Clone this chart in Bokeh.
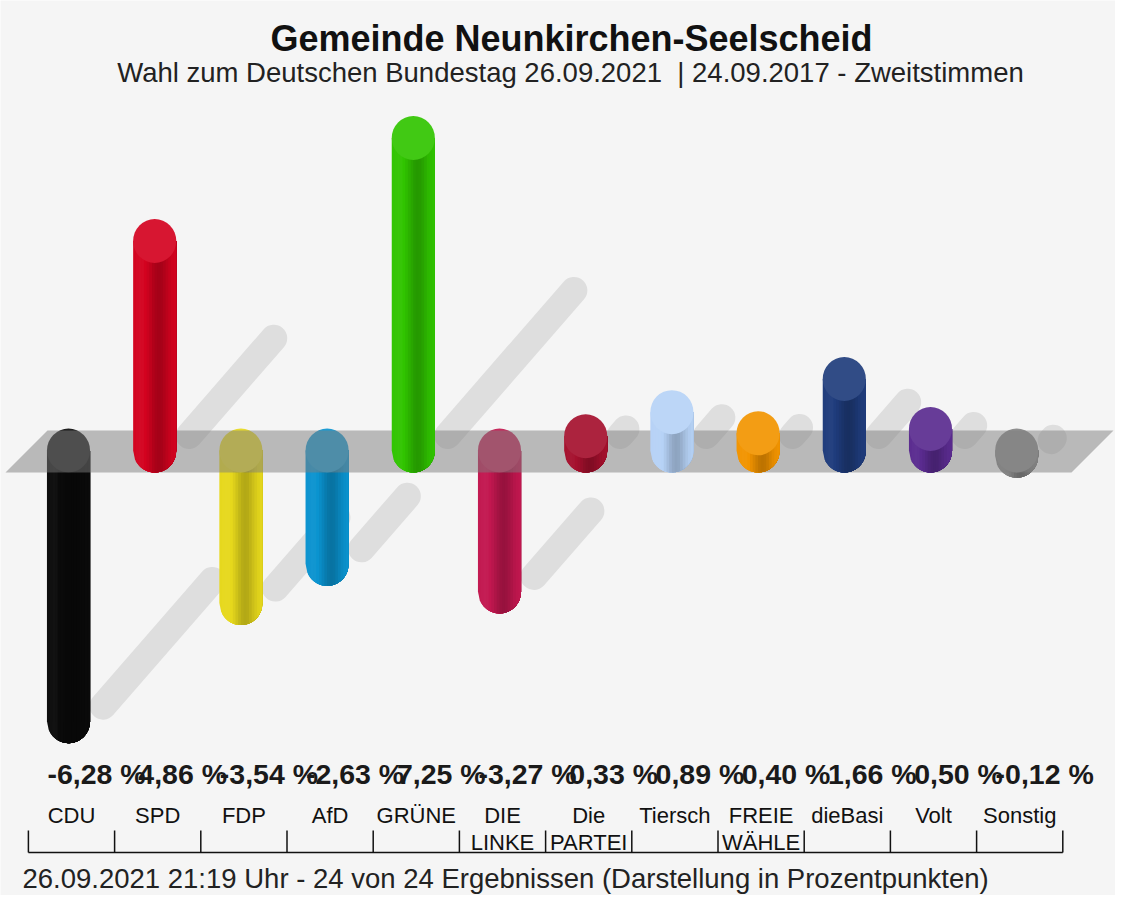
import math
from bokeh.plotting import figure
from bokeh.models import Range1d
from bokeh.embed import file_html
from bokeh.resources import INLINE
from bokeh.core.properties import value

# ---------------- data ----------------
label_line1 = ["CDU", "SPD", "FDP", "AfD", "GRÜNE", "DIE", "Die", "Tiersch", "FREIE", "dieBasi", "Volt", "Sonstig"]
label_line2 = ["", "", "", "", "", "LINKE", "PARTEI", "", "WÄHLE", "", "", ""]
values = [-6.28, 4.86, -3.54, -2.63, 7.25, -3.27, 0.33, 0.89, 0.40, 1.66, 0.50, -0.12]
colors = ["#0a0a0a", "#d3021f", "#e6d81c", "#0a93cf", "#30c400", "#c2174f",
          "#a5102d", "#b6d2f6", "#f29400", "#1f3c7c", "#5a2b8f", "#858585"]
title_text = "Gemeinde Neunkirchen-Seelscheid"
subtitle_text = "Wahl zum Deutschen Bundestag 26.09.2021\u00a0 | 24.09.2017 - Zweitstimmen"
footer_text = "26.09.2021 21:19 Uhr - 24 von 24 Ergebnissen (Darstellung in Prozentpunkten)"

# ---------------- geometry ----------------
W, H = 1115, 895
SLOT = 86.2      # px per category
UNIT = 43.1      # px per percentage point
X0 = 68.0        # px of first category centre
Y0 = 450.0       # px of zero level
BAR_W = 0.5
CAP = 44.0 / UNIT
FONT = value("Liberation Sans")


def fx(px):
    return (px - X0) / SLOT


def fy(py):
    return (Y0 - py) / UNIT


def hex2rgb(h):
    return tuple(int(h[i:i + 2], 16) for i in (1, 3, 5))


def rgb2hex(c):
    return "#%02x%02x%02x" % tuple(max(0, min(255, int(round(v)))) for v in c)


def shade(h, m):
    r, g, b = hex2rgb(h)
    if m <= 1:
        return rgb2hex((r * m, g * m, b * m))
    t = m - 1
    return rgb2hex((r + (255 - r) * t, g + (255 - g) * t, b + (255 - b) * t))


p = figure(width=W, height=H,
           x_range=Range1d(-X0 / SLOT, (W - X0) / SLOT),
           y_range=Range1d(-(H - Y0) / UNIT, Y0 / UNIT),
           output_backend="svg", toolbar_location=None, min_border=0,
           x_axis_location=None, y_axis_location=None)
p.grid.visible = False
p.outline_line_color = None
p.background_fill_color = "#f5f5f5"
p.border_fill_color = "#f5f5f5"

n = len(values)
xs = list(range(n))

# ---------------- shadows ----------------
sx0, sy0, sx1, sy1 = [], [], [], []
for i, v in zip(xs, values):
    a = abs(v)
    start_y = (v if v < 0 else 0) + 15 / UNIT
    dy = 20 * a / UNIT
    dx = (20 * a / 1.15) / SLOT
    sx0.append(i + 0.4)
    sy0.append(start_y)
    sx1.append(i + 0.4 + dx)
    sy1.append(start_y + dy)
p.segment(sx0, sy0, sx1, sy1, line_width=27, line_cap="round", line_color="#dedede")

# ---------------- bars (shaded cylinders) ----------------
NSTRIP = 16
HW = BAR_W / 2
CH = CAP / 2


def draw_bars(idx):
    pxs, pys, pcs = [], [], []
    top_x, top_y, top_c = [], [], []
    for i in idx:
        v = values[i]
        c = colors[i]
        lo, hi = min(0, v), max(0, v)
        w = BAR_W / NSTRIP
        for k in range(NSTRIP):
            t = -1 + (2 * k + 1) / NSTRIP
            m = 1 - 0.22 * math.exp(-((t - 0.2) / 0.45) ** 2) + 0.04 * math.exp(-((t + 0.6) / 0.3) ** 2)
            xl = i - HW + k * w
            px_ = [xl, i + HW]
            py_ = [hi, hi]
            steps = 24
            for s in range(steps + 1):
                xx = (i + HW) - (i + HW - xl) * s / steps
                u = (xx - i) / HW
                yy = lo - CH * math.sqrt(max(0.0, 1 - u * u))
                px_.append(xx)
                py_.append(yy)
            pxs.append(px_)
            pys.append(py_)
            pcs.append(shade(c, m))
        top_x.append(i)
        top_y.append(hi)
        top_c.append(shade(c, 1.08))
    p.patches(pxs, pys, fill_color=pcs, line_color=None)
    p.ellipse(top_x, top_y, width=BAR_W, height=CAP, fill_color=top_c, line_color=None)


neg = [i for i in xs if values[i] < 0]
pos = [i for i in xs if values[i] >= 0]
draw_bars(neg)

# ---------------- zero plane ----------------
plane_x = [fx(5), fx(47), fx(1113), fx(1071)]
plane_y = [fy(472), fy(430), fy(430), fy(472)]
p.patch(plane_x, plane_y, fill_color="#7e7e7e", fill_alpha=0.5, line_color=None)

draw_bars(pos)

# ---------------- texts ----------------
p.text(x=[fx(571)], y=[fy(38)], text=[title_text], text_font=FONT, text_font_size="36px",
       text_font_style="bold", text_align="center", text_baseline="middle", text_color="#111111")
p.text(x=[fx(570)], y=[fy(72)], text=[subtitle_text], text_font=FONT, text_font_size="27.5px",
       text_align="center", text_baseline="middle", text_color="#222222")

val_labels = [("%.2f" % v).replace(".", ",") + " %" for v in values]
p.text(x=[i + 28 / SLOT for i in xs], y=[fy(773)] * n, text=val_labels, text_font=FONT,
       text_font_size="28.5px", text_font_style="bold", text_align="center",
       text_baseline="middle", text_color="#1a1a1a")

off = 3 / SLOT
p.text(x=[i + off for i in xs], y=[fy(815)] * n, text=label_line1, text_font=FONT,
       text_font_size="22px", text_align="center", text_baseline="middle", text_color="#111111")
p.text(x=[i + off for i in xs], y=[fy(842)] * n, text=label_line2, text_font=FONT,
       text_font_size="22px", text_align="center", text_baseline="middle", text_color="#111111")

# axis line with upward ticks between categories
p.segment([-0.5 + off], [fy(852)], [n - 0.5 + off], [fy(852)], line_color="#111111", line_width=1.5)
tick_x = [i - 0.5 + off for i in range(n + 1)]
p.segment(tick_x, [fy(852)] * (n + 1), tick_x, [fy(830)] * (n + 1), line_color="#111111", line_width=1.5)

p.text(x=[fx(22)], y=[fy(878)], text=[footer_text], text_font=FONT, text_font_size="27.5px",
       text_align="left", text_baseline="middle", text_color="#222222")

open("out.html", "w").write(file_html(p, INLINE))
